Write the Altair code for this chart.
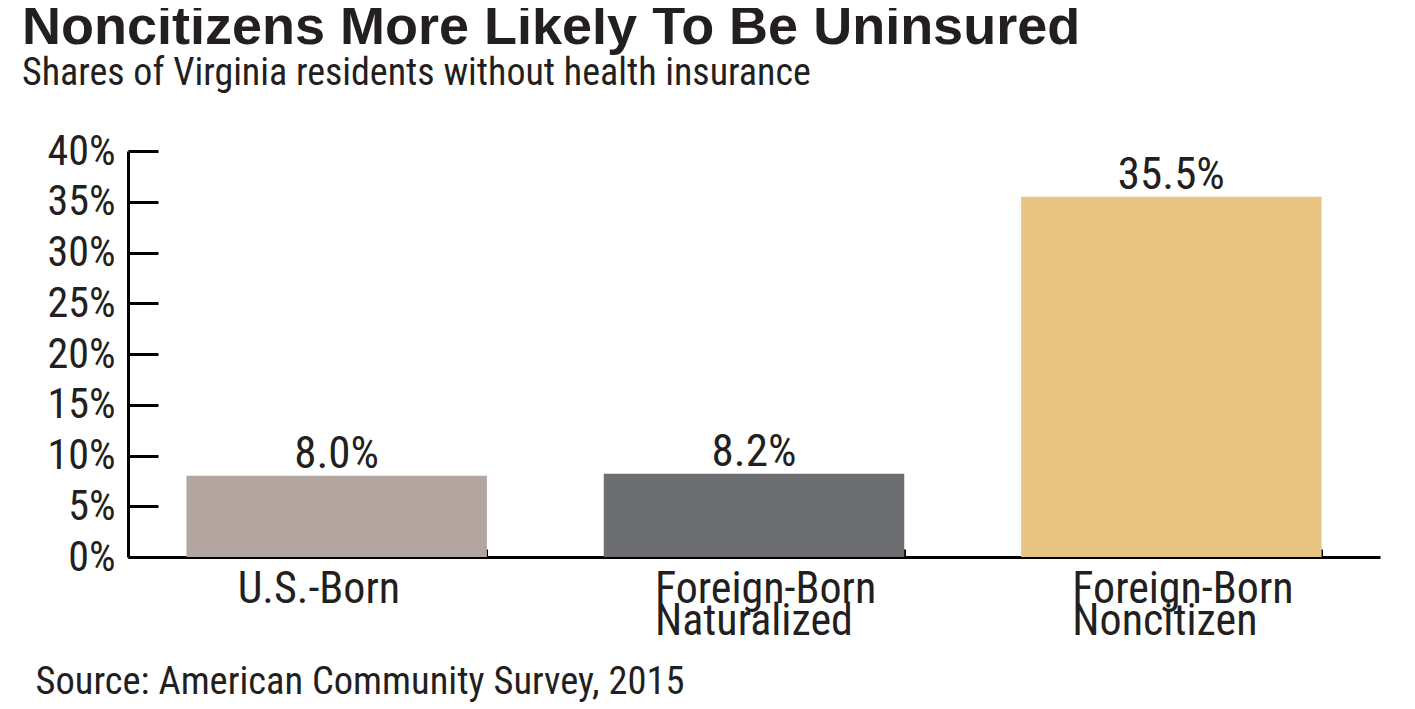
import altair as alt
import pandas as pd

categories = ["U.S.-Born", "Foreign-Born\nNaturalized", "Foreign-Born\nNoncitizen"]
values = [8.0, 8.2, 35.5]
value_labels = ["8.0%", "8.2%", "35.5%"]
colors = ["#b3a59f", "#6d6e72", "#e8c583"]

df = pd.DataFrame({"cat": categories, "value": values, "label": value_labels})

FONT = "Roboto Condensed, Liberation Sans Narrow, Arial Narrow, Liberation Sans, sans-serif"
W, H = 1252, 406

x_scale = alt.Scale(domain=categories, paddingInner=0.28, paddingOuter=0.14)
y_scale = alt.Scale(domain=[0, 40], nice=False)

bars = alt.Chart(df).mark_bar().encode(
    x=alt.X("cat:N", scale=x_scale, sort=categories,
            axis=alt.Axis(orient="bottom", domain=False, ticks=False,
                          labelAngle=0, labelAlign="left", labelOffset=-99,
                          labelBaseline="alphabetic", labelPadding=45, labelLimit=0,
                          labelFont=FONT, labelFontSize=44, labelColor="#231f20",
                          labelLineHeight=32,
                          labelExpr="split(datum.label, '\\n')",
                          title="Source: American Community Survey, 2015",
                          titleFont=FONT, titleFontSize=38.5, titleFontWeight="normal",
                          titleColor="#231f20", titleX=-93, titleY=136,
                          titleAlign="left", titleAnchor="start",
                          titleBaseline="alphabetic")),
    y=alt.Y("value:Q", scale=y_scale,
            axis=alt.Axis(orient="left", values=[0, 5, 10, 15, 20, 25, 30, 35, 40],
                          labelExpr="datum.value + '%'", ticks=False,
                          domain=True, domainColor="#000000", domainWidth=3,
                          labelFont=FONT, labelFontSize=42, labelColor="#231f20",
                          labelPadding=13, grid=False, title=None)),
    color=alt.Color("cat:N", scale=alt.Scale(domain=categories, range=colors), legend=None),
)

text = alt.Chart(df).mark_text(
    baseline="alphabetic", dy=-8, font=FONT, fontSize=45, color="#231f20"
).encode(
    x=alt.X("cat:N", scale=x_scale, sort=categories,
            axis=alt.Axis(orient="top", offset=-H, labels=False, title=None,
                          bandPosition=1, domain=True, domainColor="#000000",
                          domainWidth=3, ticks=True, tickSize=8, tickWidth=3,
                          tickColor="#000000")),
    y=alt.Y("value:Q", scale=y_scale,
            axis=alt.Axis(orient="right", offset=-W, labels=False, title=None,
                          values=[0, 5, 10, 15, 20, 25, 30, 35, 40],
                          domain=False, ticks=True, tickSize=30, tickWidth=3,
                          tickColor="#000000", grid=False)),
    text="label:N",
)

chart = alt.layer(bars, text).resolve_axis(x="independent", y="independent").properties(
    width=W, height=H,
    background="white",
    autosize=alt.AutoSizeParams(type="none"),
    padding={"left": 120, "top": 143, "right": 20, "bottom": 145},
    title=alt.TitleParams(
        text="Noncitizens More Likely To Be Uninsured",
        subtitle="Shares of Virginia residents without health insurance",
        anchor="start", frame="group", dx=-106, offset=37,
        font="Liberation Sans, Arial, sans-serif", fontSize=54, fontWeight="bold",
        color="#231f20",
        subtitleFont=FONT, subtitleFontSize=38, subtitleColor="#231f20",
        subtitlePadding=0,
    ),
).configure_view(stroke="transparent", strokeWidth=0)

chart.save("out.html", embed_options={"renderer": "svg", "actions": False})
